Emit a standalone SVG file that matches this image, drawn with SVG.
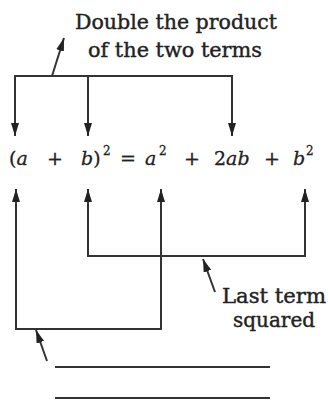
<svg xmlns="http://www.w3.org/2000/svg" width="328" height="400" viewBox="0 0 328 400">
<defs>
<marker id="big" viewBox="0 0 13 8" refX="13" refY="4" markerWidth="13" markerHeight="8" markerUnits="userSpaceOnUse" orient="auto-start-reverse"><path d="M0,0 L13,4 L0,8 Z" fill="#222"/></marker>
</defs>
<style>
.ln{fill:none;stroke:#333;stroke-width:2;stroke-linejoin:miter}
.lab{font-family:"DejaVu Serif","Liberation Serif",serif;font-size:20px;fill:#222;stroke:#222;stroke-width:0.4}
.eq{font-family:"DejaVu Serif","Liberation Serif",serif;font-size:19px;fill:#222;stroke:#222;stroke-width:0.3}
.it{font-style:italic}
.sup{font-size:12px}
</style>
<rect width="328" height="400" fill="#fff"/>
<g id="label-double">
<text class="lab" x="176" y="29" text-anchor="middle" textLength="202" lengthAdjust="spacingAndGlyphs">Double the product</text>
<text class="lab" x="175" y="57" text-anchor="middle" textLength="174" lengthAdjust="spacingAndGlyphs">of the two terms</text>
</g>
<g id="equation">
<text class="eq" x="9" y="165">(<tspan class="it">a</tspan></text>
<text class="eq" x="55" y="165" text-anchor="middle">+</text>
<text class="eq" x="81" y="165"><tspan class="it">b</tspan>)</text>
<text class="eq sup" x="103" y="155">2</text>
<text class="eq" x="128" y="165" text-anchor="middle">=</text>
<text class="eq it" x="145" y="165">a</text>
<text class="eq sup" x="159" y="155">2</text>
<text class="eq" x="192" y="165" text-anchor="middle">+</text>
<text class="eq" x="214" y="165">2<tspan class="it">ab</tspan></text>
<text class="eq" x="272" y="165" text-anchor="middle">+</text>
<text class="eq it" x="293" y="165">b</text>
<text class="eq sup" x="306" y="155">2</text>
</g>
<g id="label-last">
<text class="lab" x="274" y="303" text-anchor="middle" textLength="104" lengthAdjust="spacingAndGlyphs">Last term</text>
<text class="lab" x="274" y="327" text-anchor="middle" textLength="82" lengthAdjust="spacingAndGlyphs">squared</text>
</g>
<g id="connectors">
<path class="ln" d="M15,136 V76 H232 V136" marker-start="url(#big)" marker-end="url(#big)"/>
<path class="ln" d="M88,76 V136" marker-end="url(#big)"/>
<path class="ln" d="M52,76 L64,38" marker-end="url(#big)"/>
<path class="ln" d="M88,189 V256 H305 V189" marker-start="url(#big)" marker-end="url(#big)"/>
<path class="ln" d="M16,189 V329 H161 V189" marker-start="url(#big)" marker-end="url(#big)"/>
<path class="ln" d="M215,292 L203,259" marker-end="url(#big)"/>
<path class="ln" d="M47,361 L36,330" marker-end="url(#big)"/>
<path class="ln" d="M55,367 H270"/>
<path class="ln" d="M55,398 H270"/>
</g>
</svg>
